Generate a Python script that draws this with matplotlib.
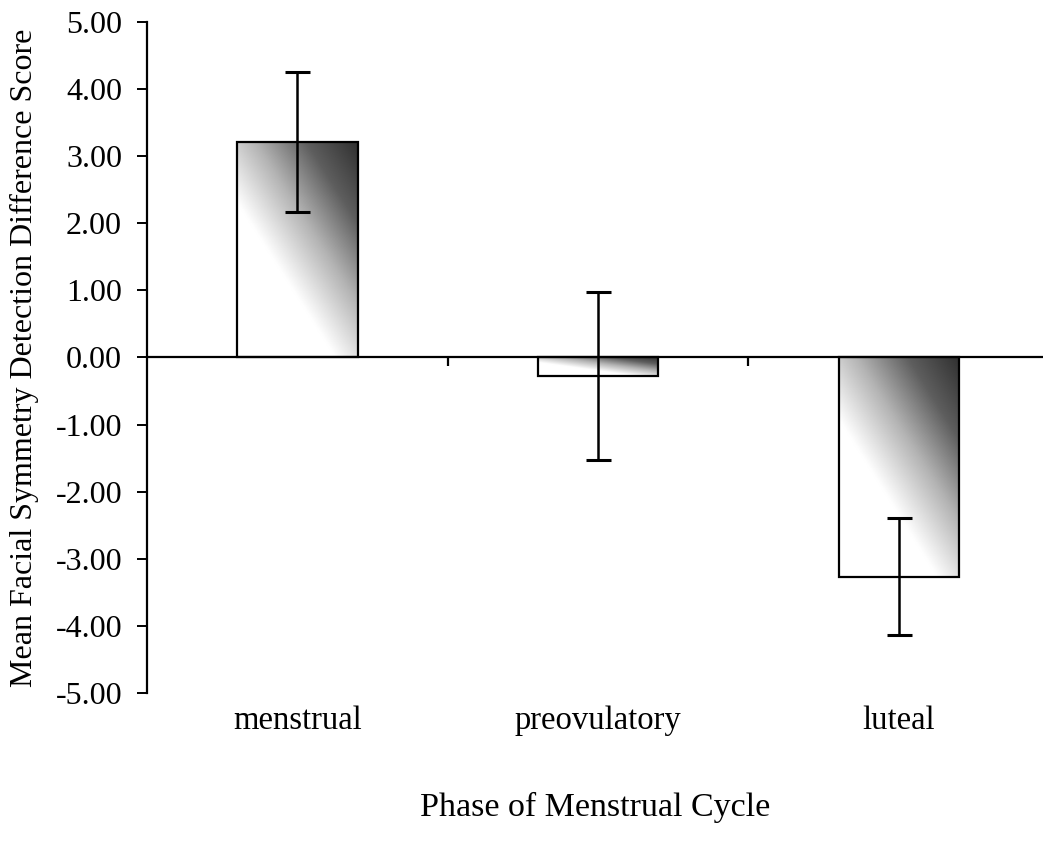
import numpy as np
import matplotlib
matplotlib.use('Agg')
import matplotlib.pyplot as plt
from matplotlib.colors import LinearSegmentedColormap

# Daten
phases = ['menstrual', 'preovulatory', 'luteal']
means = [3.21, -0.28, -3.27]
errors = [1.04, 1.25, 0.87]

plt.rcParams['font.family'] = ['Liberation Serif', 'DejaVu Serif']

fig = plt.figure(figsize=(10.43, 8.41), dpi=100)
ax = fig.add_axes([0.141, 0.176, 0.859, 0.798])

x = np.arange(len(phases))
bars = ax.bar(x, means, width=0.4, color='none', edgecolor='black', linewidth=1.6, zorder=3)

# Verlauf: links unten weiss, rechts oben dunkelgrau
cmap = LinearSegmentedColormap.from_list(
    'grad', [(0.0, '#ffffff'), (0.38, '#ffffff'), (0.6, '#b4b4b4'),
             (0.8, '#5e5e5e'), (1.0, '#303030')])
gx, gy = np.meshgrid(np.linspace(0, 1, 200), np.linspace(0, 1, 200))
# Bildzeile 0 oben (origin='upper'), also oben rechts = dunkel
g = (0.6 * gx + 0.68 * (1 - gy)) / 1.28
for b in bars:
    x0 = b.get_x()
    w = b.get_width()
    h = b.get_height()
    y0, y1 = min(0, h), max(0, h)
    im = ax.imshow(g, extent=[x0, x0 + w, y0, y1], origin='upper', cmap=cmap,
                   vmin=0, vmax=1, aspect='auto', zorder=2)
    im.set_clip_path(b)

ax.errorbar(x, means, yerr=errors, fmt='none', ecolor='black', elinewidth=1.8,
            capsize=9, capthick=2.2, zorder=4)

# Nulllinie mit Kategorie-Trennstrichen
ax.axhline(0, color='black', linewidth=1.6, zorder=3)
ax.vlines([0.5, 1.5], -0.13, 0, color='black', linewidth=1.6, zorder=3)

ax.set_xlim(-0.5, 2.48)
ax.set_ylim(-5, 5)
ax.set_yticks(np.arange(-5, 6, 1))
ax.set_yticklabels([f'{v:.2f}' for v in np.arange(-5, 6, 1)])
ax.set_xticks(x)
ax.set_xticklabels(phases)
ax.tick_params(axis='x', length=0, pad=9, labelsize=23.5)
ax.tick_params(axis='y', direction='out', length=7, width=1.4, pad=11, labelsize=23)

for s in ['top', 'right', 'bottom']:
    ax.spines[s].set_visible(False)
ax.spines['left'].set_linewidth(1.6)

ax.set_ylabel('Mean Facial Symmetry Detection Difference Score', fontsize=23, labelpad=12)
ax.set_xlabel('Phase of Menstrual Cycle', fontsize=24.5, labelpad=40)

fig.savefig('out.png', dpi=100)
